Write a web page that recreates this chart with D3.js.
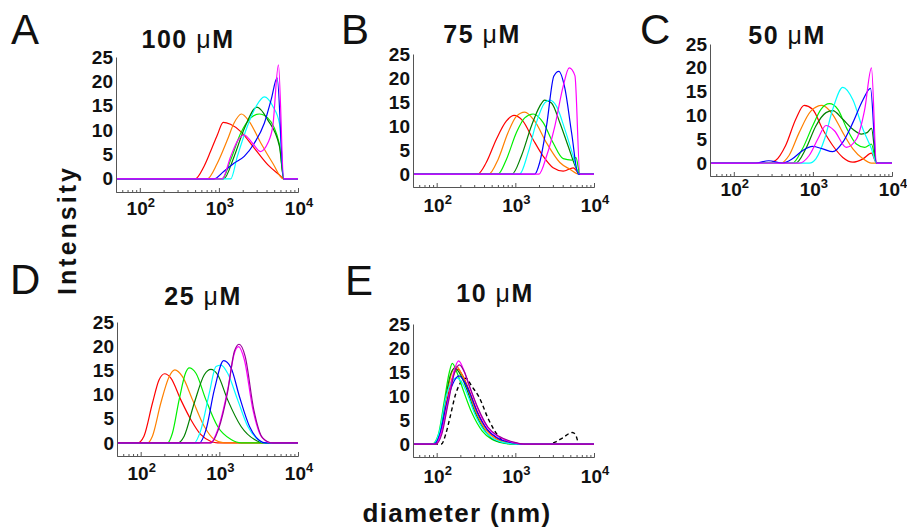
<!DOCTYPE html>
<html><head><meta charset="utf-8">
<script src="https://cdn.jsdelivr.net/npm/d3@7"></script>
<style>body{margin:0;background:#fff}svg{display:block}</style>
</head><body><svg id="c" width="907" height="527"></svg>
<script>
// ---------------- data ----------------
const panelLetters = ["A","B","C","D","E"];
const concentrations = ["100","75","50","25","10"];
const concUnit = "\u03bcM";
const xTickValues = [100, 1000, 10000];
const xTickExponents = ["2","3","4"];
const yTickValues = [0, 5, 10, 15, 20, 25];
const xLabel = "diameter (nm)";
const yLabel = "Intensity";

// Panel A (100 uM): [diameter nm, intensity %]
const a_red = [[50,0],[500,0],[645,2.5],[783,5.6],[955,9],[1135,11.6],[1400,11.2],[1890,9.7],[2800,6.3],[4140,2.9],[6100,0.5],[6600,0],[10000,0]];
const a_orange = [[50,0],[710,0],[955,3.2],[1280,8],[1550,11.4],[1930,13.3],[2410,11.8],[3400,7.3],[4800,3.2],[6500,0],[10000,0]];
const a_lime = [[50,0],[1100,0],[1410,3.9],[1890,9.4],[2530,12.5],[3240,13.3],[4140,12.5],[5840,7],[6600,0],[10000,0]];
const a_dkgreen = [[50,0],[1150,0],[1550,4.5],[2090,10.3],[3030,14.7],[4140,12.1],[5840,6.6],[6600,0],[10000,0]];
const a_cyan = [[50,0],[1410,0],[1710,4.6],[2290,10.8],[2960,14.9],[3750,16.8],[4800,14.9],[5840,11.3],[6600,0],[10000,0]];
const a_blue = [[50,0],[870,0],[1150,1.5],[1550,3.2],[2090,4.6],[2800,7.3],[3750,11.4],[4570,16.2],[5450,20.7],[6600,0],[10000,0]];
const a_magenta = [[50,0],[1100,0],[1410,4.6],[1750,8],[2090,9],[2660,7.3],[3340,5.6],[4140,7.3],[4800,10.8],[5660,23.4],[6600,0],[10000,0]];

// Panel B (75 uM)
const b_red = [[50,0],[333,0],[427,2.4],[572,7.2],[767,11],[962,12.2],[1250,11],[1680,7.2],[2260,3.7],[3020,1.3],[4060,0.6],[5450,1.3],[6620,0],[10000,0]];
const b_orange = [[50,0],[461,0],[602,3],[806,8.6],[1030,12],[1316,12.9],[1765,11],[2490,6.5],[3680,2.4],[4940,1],[6450,0],[10000,0]];
const b_lime = [[50,0],[602,0],[767,3],[1030,8.6],[1316,11.7],[1680,12.5],[2260,10.7],[3020,6.5],[4060,3.2],[5190,2.9],[5900,3.4],[6620,0],[10000,0]];
const b_dkgreen = [[50,0],[910,0],[1190,3.7],[1600,10],[2040,14.1],[2360,15.4],[2880,14.8],[3680,10.7],[4700,5.8],[6010,1],[6620,0],[10000,0]];
const b_cyan = [[50,0],[1135,0],[1450,4.4],[1850,10.7],[2360,14.8],[2740,15.4],[3340,14.1],[4260,9.3],[5450,3.7],[6450,0],[10000,0]];
const b_blue = [[50,0],[1765,0],[2040,2.4],[2490,10],[3090,20.4],[3570,21.4],[4260,17.9],[5190,8.6],[6310,0],[10000,0]];
const b_magenta = [[50,0],[2000,0],[2490,3.7],[3180,10],[4060,18.3],[4840,22.1],[5720,20.5],[6620,0],[10000,0]];

// Panel C (50 uM)
const c_red = [[50,0],[264,0],[337,0.55],[452,3.7],[607,9.2],[775,12.1],[990,11.3],[1330,7.1],[1780,3.7],[2390,1.2],[3200,0.2],[4300,0.9],[5500,2.1],[6370,0],[10000,0]];
const c_orange = [[50,0],[390,0],[499,1.6],[670,6.4],[942,10.9],[1300,12.1],[1780,10.2],[2390,6.4],[3200,3],[4300,0.9],[5500,0],[10000,0]];
const c_lime = [[50,0],[550,0],[738,3],[990,7.8],[1265,11.3],[1620,12.5],[2070,11.3],[2640,7.5],[3540,4],[4520,3.3],[5500,4],[6370,0],[10000,0]];
const c_dkgreen = [[50,0],[607,0],[813,3],[1090,7.8],[1465,10.6],[1780,11],[2390,9.2],[3200,7.1],[4100,6.1],[4840,6.4],[5500,7.3],[6370,0],[10000,0]];
const c_cyan = [[50,0],[898,0],[1090,0.9],[1400,5],[1780,11.3],[2390,15.9],[3200,13.3],[4300,7.1],[5500,3],[6370,0],[10000,0]];
const c_blue = [[50,0],[187,0],[277,0.5],[410,0],[550,0.9],[738,2.6],[990,3.5],[1330,3],[1780,2.4],[2390,4.4],[3200,8.5],[4300,13.3],[5350,15.7],[6370,0],[10000,0]];
const c_magenta = [[50,0],[670,0],[898,1.6],[1150,5],[1465,7.9],[1870,6.8],[2640,3.3],[3540,5],[4520,11.3],[5500,20],[6370,0],[10000,0]];

// Panel D (25 uM)
const d_red = [[50,0],[91,0],[110,1.4],[141,8.2],[171,13],[202,14.3],[242,13.4],[324,8.9],[435,4.8],[583,1.7],[783,0.3],[950,0],[10000,0]];
const d_orange = [[50,0],[122,0],[141,1.4],[180,8.2],[230,13.7],[272,15.1],[340,13.7],[457,8.9],[644,3.4],[864,0.7],[1150,0],[10000,0]];
const d_lime = [[50,0],[219,0],[253,2],[308,8.9],[375,14.6],[414,15.5],[504,14.4],[676,8.9],[952,3.4],[1410,0.7],[1900,0],[10000,0]];
const d_dkgreen = [[50,0],[294,0],[357,1.4],[479,8.2],[644,14.1],[783,15.2],[952,14.1],[1276,8.9],[1890,3.4],[2800,0.7],[3700,0],[10000,0]];
const d_cyan = [[50,0],[479,0],[583,2.7],[745,10.3],[906,15.8],[1050,16.1],[1276,14.4],[1710,8.9],[2300,3.4],[3090,0.7],[3700,0],[10000,0]];
const d_blue = [[50,0],[556,0],[676,2.7],[864,11],[1135,17],[1410,15.5],[1800,9.6],[2420,3.4],[3240,0.5],[3900,0],[10000,0]];
const d_magenta = [[50,0],[767,0],[952,2.7],[1276,11],[1550,18.5],[1750,19.9],[2080,17.2],[2670,6.9],[3400,1.4],[4570,0],[10000,0]];
const d_purple = [[50,0],[783,0],[970,2.7],[1276,10.6],[1550,18.9],[1780,20.4],[2130,17.9],[2740,6.9],[3570,1],[4790,0],[10000,0]];

// Panel E (10 uM)
const e_control = [[50,0],[115,0],[130,2],[145,5],[175,10.5],[205,13],[235,13.7],[280,12],[345,9.8],[460,5],[620,1.5],[830,0.4],[1100,0],[2600,0],[3200,0.4],[4000,1.3],[5300,2.4],[5800,2],[6500,0],[10000,0]];
const e_red = [[50,0],[95,0],[112,2],[133,8.5],[160,14],[185,15.6],[210,14.5],[250,11.8],[320,7.2],[430,3.2],[570,1.3],[850,0.3],[1200,0],[10000,0]];
const e_orange = [[50,0],[92,0],[110,2],[130,9],[155,14.8],[178,16.2],[205,14.8],[245,11.8],[310,7],[420,3],[550,1.2],[800,0.3],[1100,0],[10000,0]];
const e_lime = [[50,0],[88,0],[105,2],[125,9],[145,15],[158,16.8],[180,15],[220,11],[280,6.5],[380,2.7],[500,1],[700,0.2],[900,0],[10000,0]];
const e_dkgreen = [[50,0],[90,0],[108,2],[128,9],[150,14.5],[170,15.8],[200,14.5],[240,11.5],[300,7],[400,3],[520,1],[750,0.2],[1000,0],[10000,0]];
const e_cyan = [[50,0],[90,0],[108,2.5],[130,9.5],[155,13],[178,13.8],[210,12.8],[250,10],[310,6],[410,2.6],[540,1],[780,0.2],[1000,0],[10000,0]];
const e_blue = [[50,0],[92,0],[110,2],[132,8],[160,12.5],[192,14.2],[225,13],[265,10.5],[330,6.5],[440,3],[600,1.2],[900,0.3],[1200,0],[10000,0]];
const e_magenta = [[50,0],[98,0],[115,2.5],[140,9],[165,15],[190,17.3],[220,15.5],[260,12],[330,7.5],[440,3.5],[600,1.6],[900,0.4],[1300,0],[10000,0]];
const e_purple = [[50,0],[98,0],[116,2],[140,8.5],[168,14.8],[195,16.5],[225,15],[265,11.8],[335,7.5],[450,3.5],[620,1.6],[950,0.4],[1300,0],[10000,0]];

const panelSeries = [
  [a_red, a_orange, a_lime, a_dkgreen, a_cyan, a_blue, a_magenta],
  [b_red, b_orange, b_lime, b_dkgreen, b_cyan, b_blue, b_magenta],
  [c_red, c_orange, c_lime, c_dkgreen, c_cyan, c_blue, c_magenta],
  [d_red, d_orange, d_lime, d_dkgreen, d_cyan, d_blue, d_magenta, d_purple],
  [e_control, e_red, e_orange, e_lime, e_dkgreen, e_cyan, e_blue, e_magenta, e_purple]
];

// ---------------- styles / layout ----------------
const colorsStd = ["#ff0000","#ff8000","#00f000","#008000","#00ffff","#0000ff","#ff00ff","#990099"];
const panelColors = [
  colorsStd.slice(0,7), colorsStd.slice(0,7), colorsStd.slice(0,7), colorsStd.slice(0,8),
  ["#000000"].concat(colorsStd.slice(0,8))
];
const frames = [
  {x0:116, x1:298, yTop:57,  yBot:192, lab:23, letter:[11,44],  title:[188,48]},
  {x0:413, x1:594, yTop:54,  yBot:187, lab:25, letter:[341,44], title:[482,43]},
  {x0:710, x1:892, yTop:44,  yBot:176, lab:20, letter:[640,44], title:[787,44]},
  {x0:117, x1:298, yTop:322, yBot:456, lab:24, letter:[10,294], title:[203,305]},
  {x0:413, x1:594, yTop:324, yBot:457, lab:26, letter:[345,295], title:[495,302]}
];
const FONT = "'Liberation Sans', Arial, Helvetica, sans-serif";
const svg = d3.select("#c");

frames.forEach((f, i) => {
  const x = d3.scaleLog().domain([50, 10000]).range([f.x0, f.x1]);
  const y = d3.scaleLinear().domain([-2.7, 25]).range([f.yBot, f.yTop]);
  const g = svg.append("g");

  // series
  const line = d3.line().x(d => x(d[0])).y(d => y(d[1])).curve(d3.curveMonotoneX);
  panelSeries[i].forEach((s, k) => {
    const isCtrl = (i === 4 && k === 0);
    g.append("path").datum(s).attr("d", line)
      .attr("fill", "none").attr("stroke", panelColors[i][k])
      .attr("stroke-width", isCtrl ? 1.4 : 1.2)
      .attr("stroke-dasharray", isCtrl ? "4,3" : null)
      .attr("stroke-linejoin", "round");
  });

  // y axis
  const ya = g.append("g").attr("transform", `translate(${f.x0},0)`)
    .call(d3.axisLeft(y).tickValues(yTickValues).tickSize(0).tickSizeOuter(0).tickPadding(3));
  ya.select(".domain").attr("stroke", "#555").attr("stroke-width", 1);
  ya.selectAll("text").attr("font-family", FONT).attr("font-weight", "bold")
    .attr("font-size", 19).attr("fill", "#111");

  // x axis minor ticks
  const minors = [];
  [10, 100, 1000].forEach(b => { for (let m = 2; m <= 9; m++) { const v = b*m; if (v >= 50 && v < 10000) minors.push(v); } });
  const xm = g.append("g").attr("transform", `translate(0,${f.yBot})`)
    .call(d3.axisBottom(x).tickValues(minors).tickSize(-2).tickSizeOuter(0).tickFormat(""));
  xm.select(".domain").attr("stroke", "#555");
  xm.selectAll(".tick line").attr("stroke", "#555");
  const xa = g.append("g").attr("transform", `translate(0,${f.yBot})`)
    .call(d3.axisBottom(x).tickValues(xTickValues).tickSize(-4).tickSizeOuter(0).tickFormat(""));
  xa.select(".domain").attr("stroke", "#555");
  xa.selectAll(".tick line").attr("stroke", "#555");

  // x tick labels
  xTickValues.forEach((v, j) => {
    const t = g.append("text").attr("x", x(v) + 1).attr("y", f.yBot + f.lab)
      .attr("text-anchor", "middle").attr("font-family", FONT).attr("font-weight", "bold")
      .attr("font-size", 19).attr("fill", "#111");
    t.append("tspan").text("10");
    t.append("tspan").attr("dy", -8).attr("font-size", 13).text(xTickExponents[j]);
  });

  // panel letter
  svg.append("text").attr("x", f.letter[0]).attr("y", f.letter[1])
    .attr("font-family", FONT).attr("font-size", 42).attr("fill", "#111")
    .text(panelLetters[i]);

  // title
  const tt = svg.append("text").attr("x", f.title[0]).attr("y", f.title[1])
    .attr("text-anchor", "middle").attr("font-family", FONT).attr("font-size", 25)
    .attr("fill", "#111").attr("letter-spacing", 1.5);
  tt.append("tspan").attr("font-weight", "bold").text(concentrations[i] + " ");
  tt.append("tspan").attr("font-weight", "normal").text(concUnit.slice(0,1));
  tt.append("tspan").attr("font-weight", "bold").text(concUnit.slice(1));
});

// axis titles
svg.append("text").attr("transform", "translate(76,230) rotate(-90)")
  .attr("text-anchor", "middle").attr("font-family", FONT).attr("font-weight", "bold")
  .attr("font-size", 25).attr("letter-spacing", 3).attr("fill", "#111").text(yLabel);
svg.append("text").attr("x", 457).attr("y", 522)
  .attr("text-anchor", "middle").attr("font-family", FONT).attr("font-weight", "bold")
  .attr("font-size", 26).attr("letter-spacing", 1.3).attr("fill", "#111").text(xLabel);
</script>
</body></html>
